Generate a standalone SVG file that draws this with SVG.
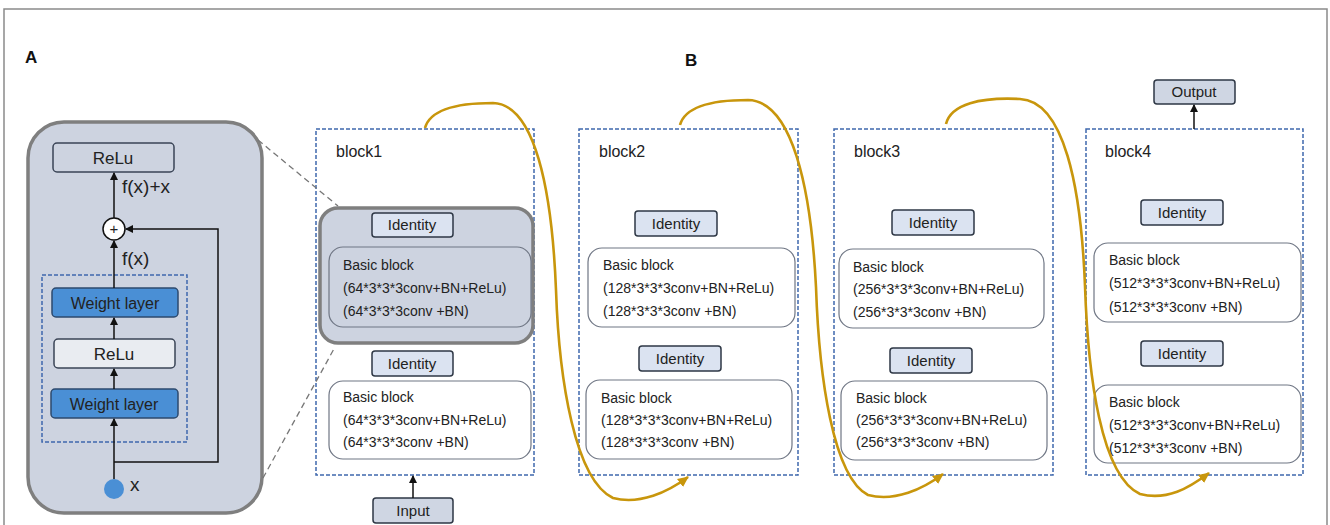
<svg xmlns="http://www.w3.org/2000/svg" width="1330" height="525" viewBox="0 0 1330 525">
<style>
text{font-family:"Liberation Sans","Noto Sans",Arial,sans-serif;fill:#222}
.frame{fill:#fff;stroke:#8a8a8a;stroke-width:1.5}
.panelA{fill:#cdd3e0;stroke:#7f7f7f;stroke-width:3.5}
.hl{fill:#cdd3e0;stroke:#7f7f7f;stroke-width:3.5}
.blk{fill:none;stroke:#3f68ad;stroke-width:1.5;stroke-dasharray:4 2}
.bb{fill:#fff;stroke:#6f7684;stroke-width:1.2}
.bbg{fill:#cdd3e0;stroke:#6f7684;stroke-width:1.2}
.id{fill:#dbe3f1;stroke:#2e3745;stroke-width:1.5}
.io{fill:#cfd6e3;stroke:#2e3745;stroke-width:1.5}
.relu{fill:#cdd3e0;stroke:#3a4456;stroke-width:1.5}
.relu2{fill:#e9ecf1;stroke:#3a4456;stroke-width:1.5}
.wl{fill:#4a8fd5;stroke:#2d4a6e;stroke-width:1.5}
.t14{font-size:14px}
.t15{font-size:15px;text-anchor:middle}
.t16{font-size:16px}
.lbl{font-size:17px;font-weight:bold;fill:#111}
.ln{fill:none;stroke:#111;stroke-width:1.5}
.dash{fill:none;stroke:#777;stroke-width:1.3;stroke-dasharray:6 4}
.gold{fill:none;stroke:#c8960c;stroke-width:2.6}
</style>
<defs>
<marker id="ah" markerWidth="8" markerHeight="8" refX="7" refY="4" orient="auto" markerUnits="userSpaceOnUse">
<path d="M0,0 L8,4 L0,8 Z" fill="#111"/>
</marker>
<marker id="ahg" markerWidth="12" markerHeight="12" refX="10" refY="6" orient="auto" markerUnits="userSpaceOnUse">
<path d="M0,1 L11,6 L0,11 Z" fill="#c8960c"/>
</marker>
</defs>

<rect class="frame" x="4" y="9" width="1323" height="540"/>
<text class="lbl" x="25" y="63">A</text>
<text class="lbl" x="685" y="66">B</text>

<!-- Panel A -->
<g id="panelA">
<rect class="panelA" x="28" y="122" width="234" height="391" rx="36"/>
<rect class="blk" x="42" y="275" width="145" height="167"/>
</g>
<g id="a-relu-top"><rect class="relu" x="53" y="143" width="121" height="29" rx="4"/><text x="113" y="164" font-size="17" text-anchor="middle">ReLu</text></g>
<g id="a-plus"><circle cx="114" cy="229" r="11" fill="#fff" stroke="#111" stroke-width="1.5"/><text x="114" y="234" font-size="15" text-anchor="middle">+</text></g>
<g id="a-wl-top"><rect class="wl" x="52" y="288" width="126" height="29" rx="4"/><text x="115" y="309" font-size="16" text-anchor="middle">Weight layer</text></g>
<g id="a-relu-mid"><rect class="relu2" x="54" y="339" width="121" height="29" rx="4"/><text x="114" y="360" font-size="17" text-anchor="middle">ReLu</text></g>
<g id="a-wl-bot"><rect class="wl" x="51" y="389" width="127" height="29" rx="4"/><text x="114" y="410" font-size="16" text-anchor="middle">Weight layer</text></g>
<g id="a-x"><circle cx="114" cy="489" r="10" fill="#4a8fd5"/><text x="130" y="491" font-size="19">x</text></g>
<g id="a-labels">
<text x="122" y="193" font-size="19">f(x)+x</text>
<text x="122" y="265" font-size="19">f(x)</text>
</g>

<!-- Block 1 -->
<g id="block1">
<rect class="blk" x="316" y="129" width="218" height="346"/>
<text class="t16" x="336" y="157">block1</text>
</g>
<g id="b1-hl">
<rect class="hl" x="320" y="208" width="213" height="135" rx="18"/>
<rect class="id" x="372" y="213" width="81" height="24" rx="3"/><text class="t15" x="412" y="230">Identity</text>
<rect class="bbg" x="329" y="247" width="202" height="80" rx="14"/>
<text class="t14" x="343" y="270">Basic block</text>
<text class="t14" x="343" y="293">(64*3*3*3conv+BN+ReLu)</text>
<text class="t14" x="343" y="316">(64*3*3*3conv +BN)</text>
</g>
<g id="b1-id2"><rect class="id" x="372" y="351" width="81" height="25" rx="3"/><text class="t15" x="412" y="369">Identity</text></g>
<g id="b1-bb2">
<rect class="bb" x="329" y="381" width="202" height="78" rx="14"/>
<text class="t14" x="343" y="402">Basic block</text>
<text class="t14" x="343" y="425">(64*3*3*3conv+BN+ReLu)</text>
<text class="t14" x="343" y="447">(64*3*3*3conv +BN)</text>
</g>
<g id="input"><rect class="io" x="373" y="498" width="80" height="25" rx="3"/><text class="t15" x="413" y="516">Input</text></g>

<!-- Block 2 -->
<g id="block2">
<rect class="blk" x="579" y="129" width="219" height="346"/>
<text class="t16" x="599" y="157">block2</text>
</g>
<g id="b2-id1"><rect class="id" x="635" y="211" width="82" height="25" rx="3"/><text class="t15" x="676" y="229">Identity</text></g>
<g id="b2-bb1">
<rect class="bb" x="588" y="248" width="207" height="79" rx="14"/>
<text class="t14" x="603" y="270">Basic block</text>
<text class="t14" x="603" y="293">(128*3*3*3conv+BN+ReLu)</text>
<text class="t14" x="603" y="316">(128*3*3*3conv +BN)</text>
</g>
<g id="b2-id2"><rect class="id" x="639" y="346" width="82" height="25" rx="3"/><text class="t15" x="680" y="364">Identity</text></g>
<g id="b2-bb2">
<rect class="bb" x="586" y="380" width="206" height="79" rx="14"/>
<text class="t14" x="601" y="403">Basic block</text>
<text class="t14" x="601" y="425">(128*3*3*3conv+BN+ReLu)</text>
<text class="t14" x="601" y="447">(128*3*3*3conv +BN)</text>
</g>

<!-- Block 3 -->
<g id="block3">
<rect class="blk" x="834" y="129" width="219" height="346"/>
<text class="t16" x="854" y="157">block3</text>
</g>
<g id="b3-id1"><rect class="id" x="892" y="210" width="82" height="25" rx="3"/><text class="t15" x="933" y="228">Identity</text></g>
<g id="b3-bb1">
<rect class="bb" x="839" y="249" width="205" height="79" rx="14"/>
<text class="t14" x="853" y="272">Basic block</text>
<text class="t14" x="853" y="294">(256*3*3*3conv+BN+ReLu)</text>
<text class="t14" x="853" y="317">(256*3*3*3conv +BN)</text>
</g>
<g id="b3-id2"><rect class="id" x="890" y="348" width="82" height="25" rx="3"/><text class="t15" x="931" y="366">Identity</text></g>
<g id="b3-bb2">
<rect class="bb" x="841" y="381" width="206" height="79" rx="14"/>
<text class="t14" x="856" y="403">Basic block</text>
<text class="t14" x="856" y="425">(256*3*3*3conv+BN+ReLu)</text>
<text class="t14" x="856" y="447">(256*3*3*3conv +BN)</text>
</g>

<!-- Block 4 -->
<g id="block4">
<rect class="blk" x="1086" y="129" width="217" height="346"/>
<text class="t16" x="1105" y="157">block4</text>
</g>
<g id="output"><rect class="io" x="1154" y="80" width="81" height="24" rx="3"/><text class="t15" x="1194" y="97">Output</text></g>
<g id="b4-id1"><rect class="id" x="1141" y="200" width="82" height="25" rx="3"/><text class="t15" x="1182" y="218">Identity</text></g>
<g id="b4-bb1">
<rect class="bb" x="1094" y="243" width="207" height="79" rx="14"/>
<text class="t14" x="1109" y="265">Basic block</text>
<text class="t14" x="1109" y="288">(512*3*3*3conv+BN+ReLu)</text>
<text class="t14" x="1109" y="312">(512*3*3*3conv +BN)</text>
</g>
<g id="b4-id2"><rect class="id" x="1141" y="341" width="82" height="25" rx="3"/><text class="t15" x="1182" y="359">Identity</text></g>
<g id="b4-bb2">
<rect class="bb" x="1094" y="385" width="207" height="78" rx="14"/>
<text class="t14" x="1109" y="407">Basic block</text>
<text class="t14" x="1109" y="430">(512*3*3*3conv+BN+ReLu)</text>
<text class="t14" x="1109" y="453">(512*3*3*3conv +BN)</text>
</g>

<!-- Connectors -->
<g id="connectors">
<line class="ln" x1="114" y1="218" x2="114" y2="173" marker-end="url(#ah)"/>
<line class="ln" x1="114" y1="288" x2="114" y2="241" marker-end="url(#ah)"/>
<line class="ln" x1="114" y1="339" x2="114" y2="318" marker-end="url(#ah)"/>
<line class="ln" x1="114" y1="389" x2="114" y2="369" marker-end="url(#ah)"/>
<line class="ln" x1="114" y1="479" x2="114" y2="419" marker-end="url(#ah)"/>
<path class="ln" d="M114,462 H218 V341 M218,365 V462 M218,341 V229 H126" marker-end="url(#ah)"/>
<line class="ln" x1="413" y1="498" x2="413" y2="476" marker-end="url(#ah)"/>
<line class="ln" x1="1194" y1="129" x2="1194" y2="105" marker-end="url(#ah)"/>
<line class="dash" x1="258" y1="140" x2="338" y2="206"/>
<line class="dash" x1="263" y1="478" x2="335" y2="347"/>
<path class="gold" d="M425,128 C430,110 455,103 493,103 C535,104 552,190 556,290 C559,380 575,480 613,498 C640,505 668,492 688,477" marker-end="url(#ahg)"/>
<path class="gold" transform="translate(255,-3)" d="M425,128 C430,110 455,103 493,103 C537,104 556,190 561,290 C564,380 578,480 613,498 C640,505 668,492 688,477" marker-end="url(#ahg)"/>
<path class="gold" transform="translate(521,-4)" d="M425,128 C430,108 460,101 499,103 C543,105 560,190 564,290 C567,380 580,480 619,498 C646,505 668,492 688,477" marker-end="url(#ahg)"/>
</g>
</svg>
